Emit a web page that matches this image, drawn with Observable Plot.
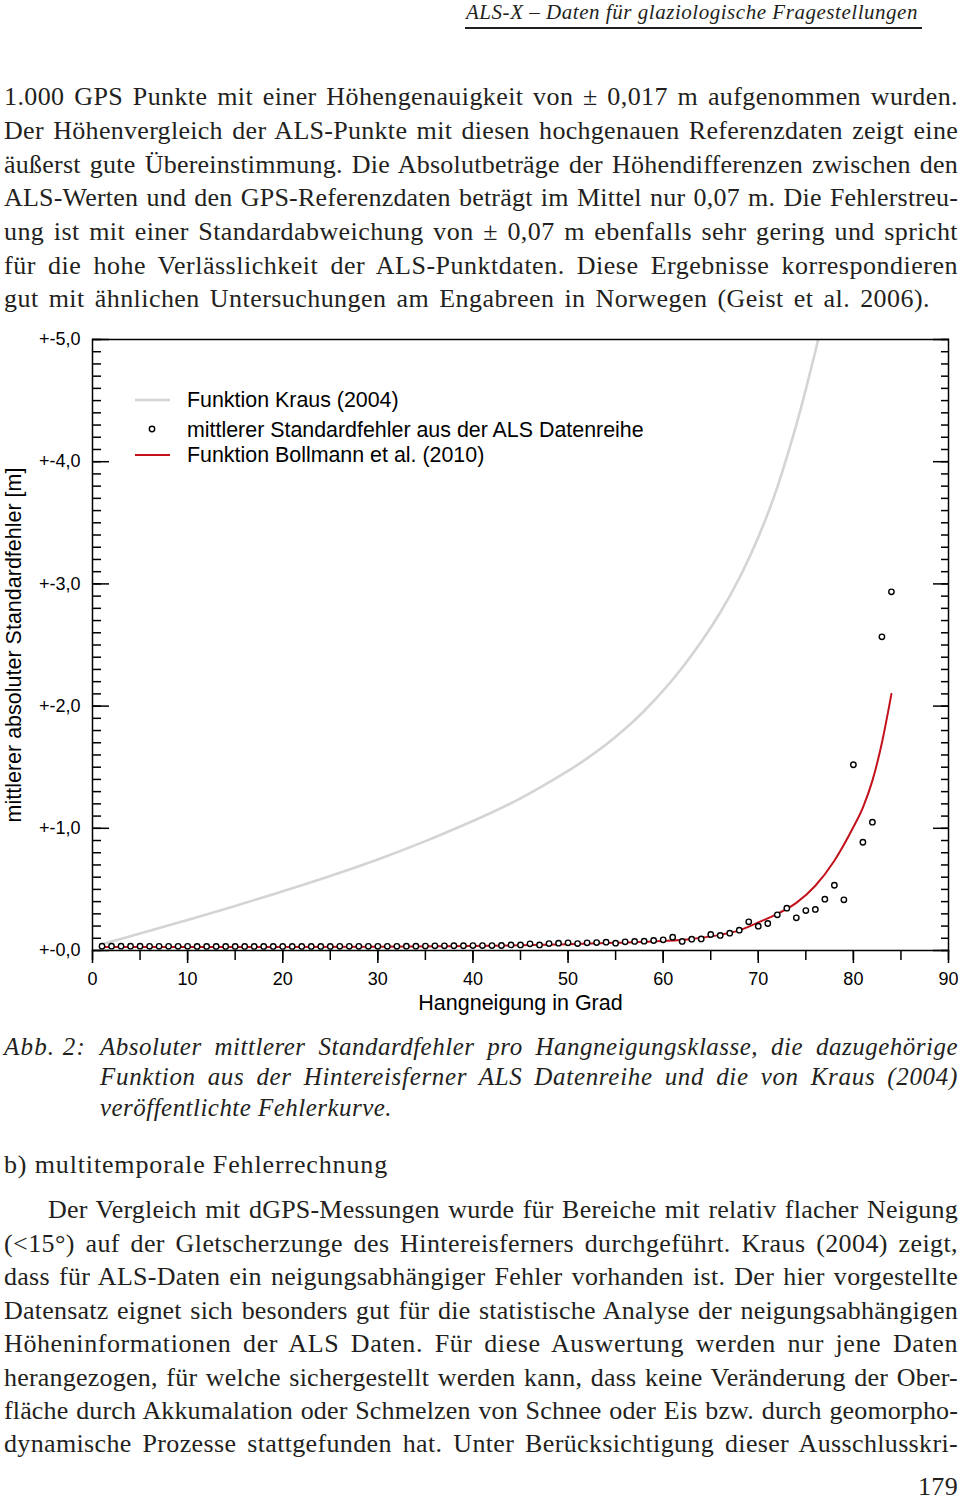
<!DOCTYPE html>
<html><head><meta charset="utf-8">
<script src="https://cdn.jsdelivr.net/npm/d3@7"></script>
<script src="https://cdn.jsdelivr.net/npm/@observablehq/plot@0.6"></script>
<style>
html,body{margin:0;padding:0;background:#fff;}
#page{position:relative;width:960px;height:1503px;overflow:hidden;font-family:"Liberation Serif","Times New Roman",serif;color:#231f20;background:#fff;}
.ln{position:absolute;white-space:nowrap;line-height:1;}
#chart{position:absolute;left:0;top:320px;}
#rule{position:absolute;left:465px;top:27px;width:457px;height:2px;background:#231f20;}
</style></head><body><div id="page"><div id="rule"></div><div id="chart"></div></div>
<script>
// ---------- data ----------
const slopeDeg = d3.range(1, 85); // 1..84 degrees
const stdErr = [
  0.035,0.035,0.035,0.035,0.035,0.034,0.034,0.034,0.034,0.034,
  0.033,0.033,0.033,0.033,0.033,0.033,0.033,0.033,0.033,0.033,
  0.033,0.033,0.033,0.033,0.033,0.034,0.034,0.034,0.034,0.034,
  0.034,0.034,0.035,0.035,0.036,0.038,0.038,0.039,0.039,0.040,
  0.040,0.040,0.041,0.046,0.046,0.055,0.046,0.057,0.060,0.063,
  0.057,0.063,0.065,0.068,0.060,0.071,0.074,0.076,0.082,0.087,
  0.109,0.074,0.093,0.095,0.131,0.123,0.142,0.166,0.235,0.199,
  0.221,0.292,0.346,0.267,0.327,0.336,0.420,0.534,0.415,1.520,
  0.886,1.050,2.567,2.935
];
const bollmannDeg = [1,10,20,30,40,45,50,55,60,63,66,68,70,72,74,76,78,80,81,82,83,84];
const bollmannVal = [0.028,0.028,0.029,0.031,0.037,0.043,0.052,0.063,0.078,0.095,0.128,0.165,0.230,0.300,0.390,0.530,0.735,1.010,1.170,1.390,1.700,2.100];
const krausDeg = [1,5,10,15,20,25,30,35,40,45,50,52,54,56,58,60,62,64,66,68,70,72,74,75,76,77];
const krausVal = [0.052,0.140,0.250,0.365,0.485,0.610,0.745,0.895,1.060,1.245,1.470,1.572,1.686,1.814,1.960,2.126,2.314,2.526,2.766,3.046,3.382,3.792,4.302,4.592,4.902,5.232];
const xTickLabels = [0,10,20,30,40,50,60,70,80,90];
const xTicksMinor = [0,5,10,15,20,25,30,35,40,45,50,55,60,65,70,75,80,85,90];
const yTickLabels = [0,1,2,3,4,5];
const yTicksMinor = d3.range(0, 51).map(i => i / 10);
const legendLabels = ["Funktion Kraus (2004)", "mittlerer Standardfehler aus der ALS Datenreihe", "Funktion Bollmann et al. (2010)"];
const xTitle = "Hangneigung in Grad";
const yTitle = "mittlerer absoluter Standardfehler [m]";

const headerText = "ALS-X – Daten für glaziologische Fragestellungen";
const bodyLines = [
  "1.000 GPS Punkte mit einer Höhengenauigkeit von ± 0,017 m aufgenommen wurden.",
  "Der Höhenvergleich der ALS-Punkte mit diesen hochgenauen Referenzdaten zeigt eine",
  "äußerst gute Übereinstimmung. Die Absolutbeträge der Höhendifferenzen zwischen den",
  "ALS-Werten und den GPS-Referenzdaten beträgt im Mittel nur 0,07 m. Die Fehlerstreu-",
  "ung ist mit einer Standardabweichung von ± 0,07 m ebenfalls sehr gering und spricht",
  "für die hohe Verlässlichkeit der ALS-Punktdaten. Diese Ergebnisse korrespondieren",
  "gut mit ähnlichen Untersuchungen am Engabreen in Norwegen (Geist et al. 2006)."
];
const captionLabel = "Abb. 2:";
const captionLines = [
  "Absoluter mittlerer Standardfehler pro Hangneigungsklasse, die dazugehörige",
  "Funktion aus der Hintereisferner ALS Datenreihe und die von Kraus (2004)",
  "veröffentlichte Fehlerkurve."
];
const subheading = "b) multitemporale Fehlerrechnung";
const paraLines = [
  "Der Vergleich mit dGPS-Messungen wurde für Bereiche mit relativ flacher Neigung",
  "(<15°) auf der Gletscherzunge des Hintereisferners durchgeführt. Kraus (2004) zeigt,",
  "dass für ALS-Daten ein neigungsabhängiger Fehler vorhanden ist. Der hier vorgestellte",
  "Datensatz eignet sich besonders gut für die statistische Analyse der neigungsabhängigen",
  "Höheninformationen der ALS Daten. Für diese Auswertung werden nur jene Daten",
  "herangezogen, für welche sichergestellt werden kann, dass keine Veränderung der Ober-",
  "fläche durch Akkumalation oder Schmelzen von Schnee oder Eis bzw. durch geomorpho-",
  "dynamische Prozesse stattgefunden hat. Unter Berücksichtigung dieser Ausschlusskri-"
];
const pageNumber = "179";

// ---------- text layout ----------
const page = document.getElementById("page");
function addLine(text, o) {
  const el = document.createElement("div");
  el.className = "ln";
  el.textContent = text;
  el.style.left = o.left + "px";
  el.style.top = (o.cy - 0.54 * o.size) + "px";
  el.style.fontSize = o.size + "px";
  if (o.italic) el.style.fontStyle = "italic";
  el.dataset.target = o.right - o.left;
  el.dataset.mode = o.mode || "word";
  page.appendChild(el);
}
addLine(headerText, {left: 466, right: 918, cy: 13, size: 21, italic: true, mode: "letter"});
const bodyCy = [98, 132, 166, 199, 233, 267, 300];
bodyLines.forEach((t, i) => addLine(t, {left: 4, right: i === 6 ? 930 : 958, cy: bodyCy[i], size: 26}));
addLine(captionLabel, {left: 4, right: 86, cy: 1047, size: 25, italic: true, mode: "letter"});
const capCy = [1047, 1077, 1108];
captionLines.forEach((t, i) => addLine(t, {left: 100, right: i === 2 ? 392 : 958, cy: capCy[i], size: 25, italic: true, mode: i === 2 ? "letter" : "word"}));
addLine(subheading, {left: 4, right: 388, cy: 1166, size: 26, mode: "letter"});
const paraCy = [1211, 1245, 1278, 1312, 1345, 1379, 1412, 1445];
paraLines.forEach((t, i) => addLine(t, {left: i === 0 ? 48 : 4, right: 958, cy: paraCy[i], size: 26}));
addLine(pageNumber, {left: 918, right: 958, cy: 1488, size: 26, mode: "letter"});

function fit() {
  page.querySelectorAll(".ln").forEach(el => {
    el.style.wordSpacing = "0px"; el.style.letterSpacing = "0px";
    const target = +el.dataset.target;
    const n = el.textContent.length;
    let w = el.getBoundingClientRect().width;
    const spaces = (el.textContent.match(/ /g) || []).length;
    if (el.dataset.mode === "word" && spaces > 0) {
      const ls = Math.max(-0.6, Math.min(0.9, 0.5 * (target - w) / n));
      el.style.letterSpacing = ls + "px";
      w = el.getBoundingClientRect().width;
      el.style.wordSpacing = ((target - w) / spaces) + "px";
    } else {
      el.style.letterSpacing = ((target - w) / n) + "px";
    }
  });
}
fit();
if (document.fonts && document.fonts.ready) document.fonts.ready.then(fit);

// ---------- chart ----------
const dots = slopeDeg.map((d, i) => ({deg: d, val: stdErr[i]}));
const bollmann = bollmannDeg.map((d, i) => ({deg: d, val: bollmannVal[i]}));
const kraus = krausDeg.map((d, i) => ({deg: d, val: krausVal[i]}));
const fmtY = d => "+-" + d.toFixed(1).replace(".", ",");

const svg = Plot.plot({
  width: 960, height: 700,
  marginTop: 19, marginBottom: 70, marginLeft: 92, marginRight: 12,
  style: {fontFamily: "'Liberation Sans', Arial, sans-serif", fontSize: "18px", color: "#000", background: "#fff"},
  x: {domain: [0, 90], label: null},
  y: {domain: [0, 5], label: null},
  marks: [
    Plot.line(kraus, {x: "deg", y: "val", stroke: "#d4d4d4", strokeWidth: 2.6, curve: "natural", clip: true}),
    Plot.line(bollmann, {x: "deg", y: "val", stroke: "#c4121d", strokeWidth: 2, curve: "monotone-x"}),
    Plot.dot(dots, {x: "deg", y: "val", r: 2.7, stroke: "#000", strokeWidth: 1.4, fill: "#fff"}),
    Plot.frame({stroke: "#000", strokeWidth: 1.5}),
    // left ticks (inward)
    Plot.axisY(yTicksMinor, {anchor: "left", tickSize: -9, tickFormat: () => "", strokeWidth: 1.5, label: null}),
    Plot.axisY(yTickLabels, {anchor: "left", tickSize: -17, tickFormat: () => "", strokeWidth: 1.5, label: null}),
    Plot.axisY(yTickLabels, {anchor: "left", tickSize: 0, tickPadding: 12, tickFormat: fmtY, fontSize: 18, label: null}),
    // right ticks (inward)
    Plot.axisY(yTicksMinor, {anchor: "right", tickSize: -8, tickFormat: () => "", strokeWidth: 1.5, label: null}),
    Plot.axisY(yTickLabels, {anchor: "right", tickSize: -16, tickFormat: () => "", strokeWidth: 1.5, label: null}),
    // bottom ticks (outward)
    Plot.axisX(xTicksMinor, {anchor: "bottom", tickSize: 10, tickFormat: () => "", strokeWidth: 1.5, label: null}),
    Plot.axisX(xTickLabels, {anchor: "bottom", tickSize: 13, tickPadding: 9, tickFormat: d => String(d), fontSize: 18, strokeWidth: 1.5, label: null}),
    Plot.text([xTitle], {frameAnchor: "bottom", dy: 53, lineAnchor: "middle", textAnchor: "middle", text: d => d, fontSize: 21.5, fill: "#000"}),
    Plot.text([yTitle], {frameAnchor: "left", dx: -78, rotate: -90, lineAnchor: "middle", textAnchor: "middle", text: d => d, fontSize: 21.5, fill: "#000"})
  ]
});

// legend (inside plot, upper left)
const lg = d3.select(svg).append("g")
  .attr("font-family", "'Liberation Sans', Arial, sans-serif")
  .attr("font-size", 21.4).attr("fill", "#000").attr("text-anchor", "start");
const legendY = [80, 109, 135];
lg.append("line").attr("x1", 135).attr("x2", 170).attr("y1", legendY[0]).attr("y2", legendY[0])
  .attr("stroke", "#d4d4d4").attr("stroke-width", 2.6);
lg.append("circle").attr("cx", 152).attr("cy", legendY[1]).attr("r", 2.7)
  .attr("stroke", "#000").attr("stroke-width", 1.4).attr("fill", "#fff");
lg.append("line").attr("x1", 135).attr("x2", 170).attr("y1", legendY[2]).attr("y2", legendY[2])
  .attr("stroke", "#c4121d").attr("stroke-width", 2);
legendLabels.forEach((t, i) => lg.append("text").attr("x", 187).attr("y", legendY[i] + (i === 1 ? 1 : 0)).attr("dy", "0.35em").text(t));

document.getElementById("chart").appendChild(svg);
</script>
</body></html>
